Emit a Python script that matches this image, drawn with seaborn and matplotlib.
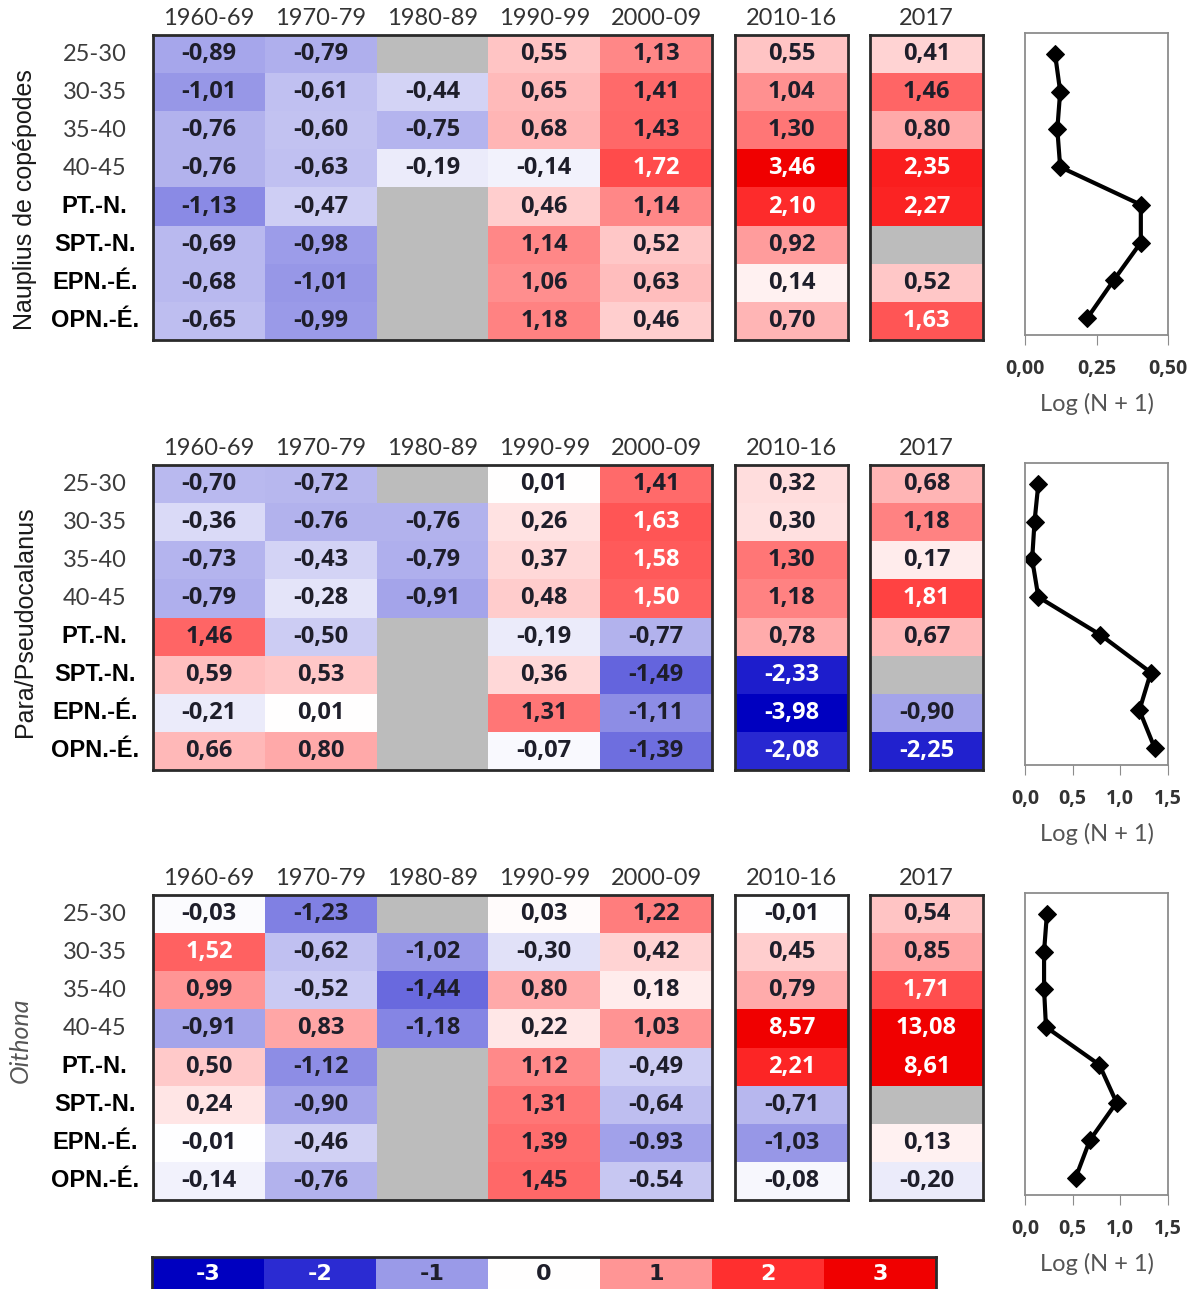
import numpy as np
import matplotlib.pyplot as plt
import seaborn as sns
from matplotlib.colors import LinearSegmentedColormap

nan = np.nan

decades = ['1960-69', '1970-79', '1980-89', '1990-99', '2000-09']
zones = ['25-30', '30-35', '35-40', '40-45', 'PT.-N.', 'SPT.-N.', 'EPN.-É.', 'OPN.-É.']
scale_values = [-3, -2, -1, 0, 1, 2, 3]

# Nauplius de copépodes (rows = zones, cols = decades)
naup_decades = np.array([
    [-0.89, -0.79, nan, 0.55, 1.13],
    [-1.01, -0.61, -0.44, 0.65, 1.41],
    [-0.76, -0.60, -0.75, 0.68, 1.43],
    [-0.76, -0.63, -0.19, -0.14, 1.72],
    [-1.13, -0.47, nan, 0.46, 1.14],
    [-0.69, -0.98, nan, 1.14, 0.52],
    [-0.68, -1.01, nan, 1.06, 0.63],
    [-0.65, -0.99, nan, 1.18, 0.46],
])
naup_2010_16 = [0.55, 1.04, 1.30, 3.46, 2.10, 0.92, 0.14, 0.70]
naup_2017 = [0.41, 1.46, 0.80, 2.35, 2.27, nan, 0.52, 1.63]
naup_log = [0.105, 0.123, 0.113, 0.123, 0.405, 0.405, 0.31, 0.218]

# Para/Pseudocalanus
para_decades = np.array([
    [-0.70, -0.72, nan, 0.01, 1.41],
    [-0.36, -0.76, -0.76, 0.26, 1.63],
    [-0.73, -0.43, -0.79, 0.37, 1.58],
    [-0.79, -0.28, -0.91, 0.48, 1.50],
    [1.46, -0.50, nan, -0.19, -0.77],
    [0.59, 0.53, nan, 0.36, -1.49],
    [-0.21, 0.01, nan, 1.31, -1.11],
    [0.66, 0.80, nan, -0.07, -1.39],
])
para_2010_16 = [0.32, 0.30, 1.30, 1.18, 0.78, -2.33, -3.98, -2.08]
para_2017 = [0.68, 1.18, 0.17, 1.81, 0.67, nan, -0.90, -2.25]
para_log = [0.14, 0.10, 0.075, 0.14, 0.79, 1.32, 1.20, 1.36]

# Oithona
oith_decades = np.array([
    [-0.03, -1.23, nan, 0.03, 1.22],
    [1.52, -0.62, -1.02, -0.30, 0.42],
    [0.99, -0.52, -1.44, 0.80, 0.18],
    [-0.91, 0.83, -1.18, 0.22, 1.03],
    [0.50, -1.12, nan, 1.12, -0.49],
    [0.24, -0.90, nan, 1.31, -0.64],
    [-0.01, -0.46, nan, 1.39, -0.93],
    [-0.14, -0.76, nan, 1.45, -0.54],
])
oith_2010_16 = [-0.01, 0.45, 0.79, 8.57, 2.21, -0.71, -1.03, -0.08]
oith_2017 = [0.54, 0.85, 1.71, 13.08, 8.61, nan, 0.13, -0.20]
oith_log = [0.23, 0.20, 0.20, 0.22, 0.78, 0.96, 0.68, 0.53]

# cells printed with a decimal point instead of a comma in the source
dot_cells = {(1, 1, 1), (2, 6, 4), (2, 7, 4)}

W, H = 1198, 1289
fig = plt.figure(figsize=(W / 100, H / 100), dpi=100)


def box(x0, y0, x1, y1):
    return [x0 / W, 1 - y1 / H, (x1 - x0) / W, (y1 - y0) / H]


cmap = LinearSegmentedColormap.from_list('anom', [
    (0.0, '#0000c0'), (1 / 6, '#2c2cd2'), (2 / 6, '#9a9ae8'), (0.5, '#ffffff'),
    (4 / 6, '#ff9595'), (5 / 6, '#ff3030'), (1.0, '#f00000')])

num_font = dict(family='Open Sans', weight='bold', size=17)
dark = '#1e1e2a'


def fmt(v, dot=False):
    s = f'{v:.2f}'
    return s if dot else s.replace('.', ',')


def draw_heat(ax, data, cols, panel, col_offset, show_rows):
    data = np.asarray(data, dtype=float)
    labels = np.empty(data.shape, dtype=object)
    for i in range(data.shape[0]):
        for j in range(data.shape[1]):
            labels[i, j] = '' if np.isnan(data[i, j]) else fmt(
                data[i, j], (panel, i, j + col_offset) in dot_cells)
    sns.heatmap(data, ax=ax, cmap=cmap, vmin=-3, vmax=3, cbar=False,
                annot=labels, fmt='', annot_kws=num_font,
                xticklabels=cols, yticklabels=zones if show_rows else False)
    ax.set_facecolor('#bcbcbc')
    for t in ax.texts:
        v = float(t.get_text().replace(',', '.'))
        t.set_color('white' if (v >= 1.5 or v <= -2) else dark)
    for s in ax.spines.values():
        s.set_visible(True)
        s.set_color('#2a2a2a')
        s.set_linewidth(2)
    ax.xaxis.tick_top()
    ax.tick_params(axis='x', length=0, pad=4, labelsize=17, labelcolor='#333333')
    for lab in ax.get_xticklabels():
        lab.set_family('Lato')
        lab.set_rotation(0)
    ax.tick_params(axis='y', length=0)
    if show_rows:
        ax.tick_params(axis='y', pad=42)
        for i, lab in enumerate(ax.get_yticklabels()):
            lab.set_rotation(0)
            lab.set_ha('center')
            if i < 4:
                lab.set_family('Lato')
                lab.set_fontsize(17)
                lab.set_color('#3c3c3c')
            else:
                lab.set_family('Liberation Sans')
                lab.set_fontweight('bold')
                lab.set_fontsize(17)
                lab.set_color('black')


def draw_profile(ax, values, xmax, ticks, ticklabels):
    sns.lineplot(x=values, y=list(range(len(values))), ax=ax, sort=False,
                 estimator=None, color='black', linewidth=3, marker='D',
                 markersize=9, markeredgecolor='black')
    ax.set_xlim(0, xmax)
    ax.set_ylim(7.45, -0.55)
    ax.set_yticks([])
    ax.set_xticks(ticks)
    ax.set_xticklabels(ticklabels, family='Open Sans', weight='bold', size=14,
                       color='#333333')
    ax.tick_params(axis='x', length=7, color='#8c8c8c', pad=10)
    for s in ax.spines.values():
        s.set_color('#8c8c8c')
        s.set_linewidth(1.3)
    ax.set_xlabel('Log (N + 1)', family='Lato', size=17, color='#555555', labelpad=10)
    ax.set_ylabel('')


panels = [
    (naup_decades, naup_2010_16, naup_2017, naup_log, 35,
     0.5, [0, 0.25, 0.5], ['0,00', '0,25', '0,50']),
    (para_decades, para_2010_16, para_2017, para_log, 465,
     1.5, [0, 0.5, 1.0, 1.5], ['0,0', '0,5', '1,0', '1,5']),
    (oith_decades, oith_2010_16, oith_2017, oith_log, 895,
     1.5, [0, 0.5, 1.0, 1.5], ['0,0', '0,5', '1,0', '1,5']),
]

for p, (dec, recent, last, logv, top, xmax, ticks, tlabels) in enumerate(panels):
    bottom = top + 305
    ax1 = fig.add_axes(box(153, top, 712, bottom))
    draw_heat(ax1, dec, decades, p, 0, True)
    ax2 = fig.add_axes(box(735, top, 848, bottom))
    draw_heat(ax2, np.array(recent)[:, None], ['2010-16'], p, 5, False)
    ax3 = fig.add_axes(box(870, top, 983, bottom))
    draw_heat(ax3, np.array(last)[:, None], ['2017'], p, 6, False)
    ax4 = fig.add_axes(box(1025, top - 2, 1168, bottom - 5))
    draw_profile(ax4, logv, xmax, ticks, tlabels)

fig.text(25 / W, 1 - 200 / H, 'Nauplius de copépodes', rotation=90, ha='center',
         va='center', family='Liberation Sans', size=18, color='#1a1a1a')
fig.text(25 / W, 1 - 622 / H, 'Para/Pseudocalanus', rotation=90, ha='center',
         va='center', family='Liberation Sans', size=18, color='#1a1a1a')
fig.text(20 / W, 1 - 1040 / H, 'Oithona', rotation=90, ha='center', va='center',
         family='Lato', style='italic', size=18, color='#555555')

# colour scale
axc = fig.add_axes(box(152, 1257, 936, 1292))
scale = np.array([scale_values], dtype=float)
sns.heatmap(scale, ax=axc, cmap=cmap, vmin=-3, vmax=3, cbar=False,
            annot=np.array([[str(v) for v in scale_values]]), fmt='',
            annot_kws=dict(family=['Liberation Sans Narrow', 'DejaVu Sans'],
                           weight='bold', size=16),
            xticklabels=False, yticklabels=False)
for t in axc.texts:
    v = int(t.get_text())
    t.set_color('white' if abs(v) >= 2 else dark)
for s in axc.spines.values():
    s.set_visible(True)
    s.set_color('#2a2a2a')
    s.set_linewidth(2)

fig.savefig('out.png', dpi=100)
